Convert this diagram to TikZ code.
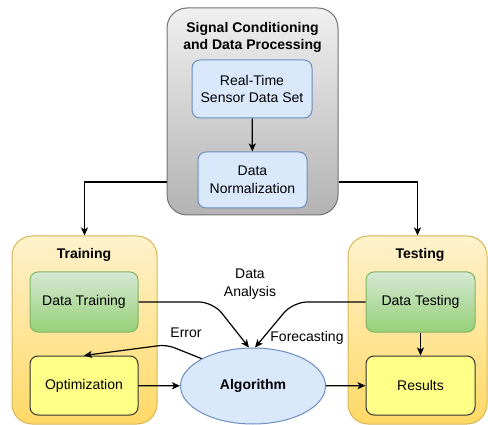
\documentclass[tikz,border=0pt]{standalone}
\usepackage{fontspec}
\setmainfont{Liberation Sans}
\usetikzlibrary{arrows.meta,shapes.geometric}

\definecolor{boxblue}{HTML}{DAE8FC}
\definecolor{lineblue}{HTML}{6C8EBF}
\definecolor{lightgreen}{HTML}{D5E8D4}
\definecolor{darkgreen}{HTML}{97D077}
\definecolor{linegreen}{HTML}{82B366}
\definecolor{lightyellow}{HTML}{FFF2CC}
\definecolor{darkyellow}{HTML}{FFD966}
\definecolor{lineyellow}{HTML}{D6B656}
\definecolor{paleyellow}{HTML}{FFFF88}

\begin{document}
\begin{tikzpicture}[x=1pt, y=-1pt,
		font=\fontsize{14}{17.5}\selectfont,
		group/.style={draw, rounded corners=20pt, line width=1pt},
		stagebox/.style={draw, rounded corners=8pt, line width=1pt, align=center},
		arr/.style={draw, line width=1.2pt, -{Stealth[length=8pt, width=7pt, inset=2pt]}}]
		\useasboundingbox (0,0) rectangle (488,425);
		
		% containers
		\node[group, top color=gray!12, bottom color=gray!60, draw=gray!90!black, minimum width=171pt, minimum height=207pt] (proc) at (252.5,111.5) {};
		\node[group, top color=lightyellow, bottom color=darkyellow, draw=lineyellow, minimum width=145pt, minimum height=188pt] (train) at (84.5,330) {};
		\node[group, top color=lightyellow, bottom color=darkyellow, draw=lineyellow, minimum width=139pt, minimum height=188pt] (test) at (417.5,330) {};
		
		\node[font=\fontsize{14}{17}\selectfont\bfseries, align=center] (proctitle) at (252.5,37) {Signal Conditioning\\and Data Processing};
		\node[font=\fontsize{14}{17}\selectfont\bfseries] (traintitle) at (84,255) {Training};
		\node[font=\fontsize{14}{17}\selectfont\bfseries] (testtitle) at (420,255) {Testing};
		
		% boxes
		\node[stagebox, fill=boxblue, draw=lineblue, minimum width=120pt, minimum height=58pt] (rt) at (252,89) {Real-Time\\Sensor Data Set};
		\node[stagebox, fill=boxblue, draw=lineblue, minimum width=109pt, minimum height=56pt] (dn) at (252.5,180) {Data\\Normalization};
		\node[stagebox, top color=lightgreen, bottom color=darkgreen, draw=linegreen, minimum width=108pt, minimum height=60pt] (dtrain) at (84,302) {Data Training};
		\node[stagebox, fill=paleyellow, draw=black!80, minimum width=108pt, minimum height=59pt] (opt) at (84,385.5) {Optimization};
		\node[stagebox, top color=lightgreen, bottom color=darkgreen, draw=linegreen, minimum width=109pt, minimum height=60pt] (dtest) at (420.5,302) {Data Testing};
		\node[stagebox, fill=paleyellow, draw=black!80, minimum width=109pt, minimum height=59pt] (res) at (420.5,385.5) {Results};
		\node[ellipse, draw=lineblue, fill=boxblue, line width=1pt, minimum width=145pt, minimum height=76pt, font=\fontsize{14}{17}\selectfont\bfseries] (alg) at (253,386) {Algorithm};
		
		% connectors
		\draw[arr] (rt) -- (dn);
		\draw[arr] (proc.west |- 0,182) -| (train.north);
		\draw[arr] (proc.east |- 0,182) -| (test.north);
		\draw[arr, rounded corners=14pt] (dtrain.east) -- ([xshift=-40pt]alg.north |- dtrain.east) -- ([xshift=-4pt]alg.north);
		\draw[arr, rounded corners=14pt] (dtest.west) -- ([xshift=40pt]alg.north |- dtest.west) -- ([xshift=2pt]alg.north);
		\draw[arr, rounded corners=8pt] (alg.152) -- ++(-35,-14) -- (opt.north);
		\draw[arr] (opt) -- (alg);
		\draw[arr] (alg) -- (res);
		\draw[arr] (dtest) -- (res);
		
		% labels
		\node[align=center] (analysis) at (250,284) {Data\\Analysis};
		\node (forecast) at (307,338) {Forecasting};
		\node (error) at (186,333) {Error};
	\end{tikzpicture}
\end{document}
